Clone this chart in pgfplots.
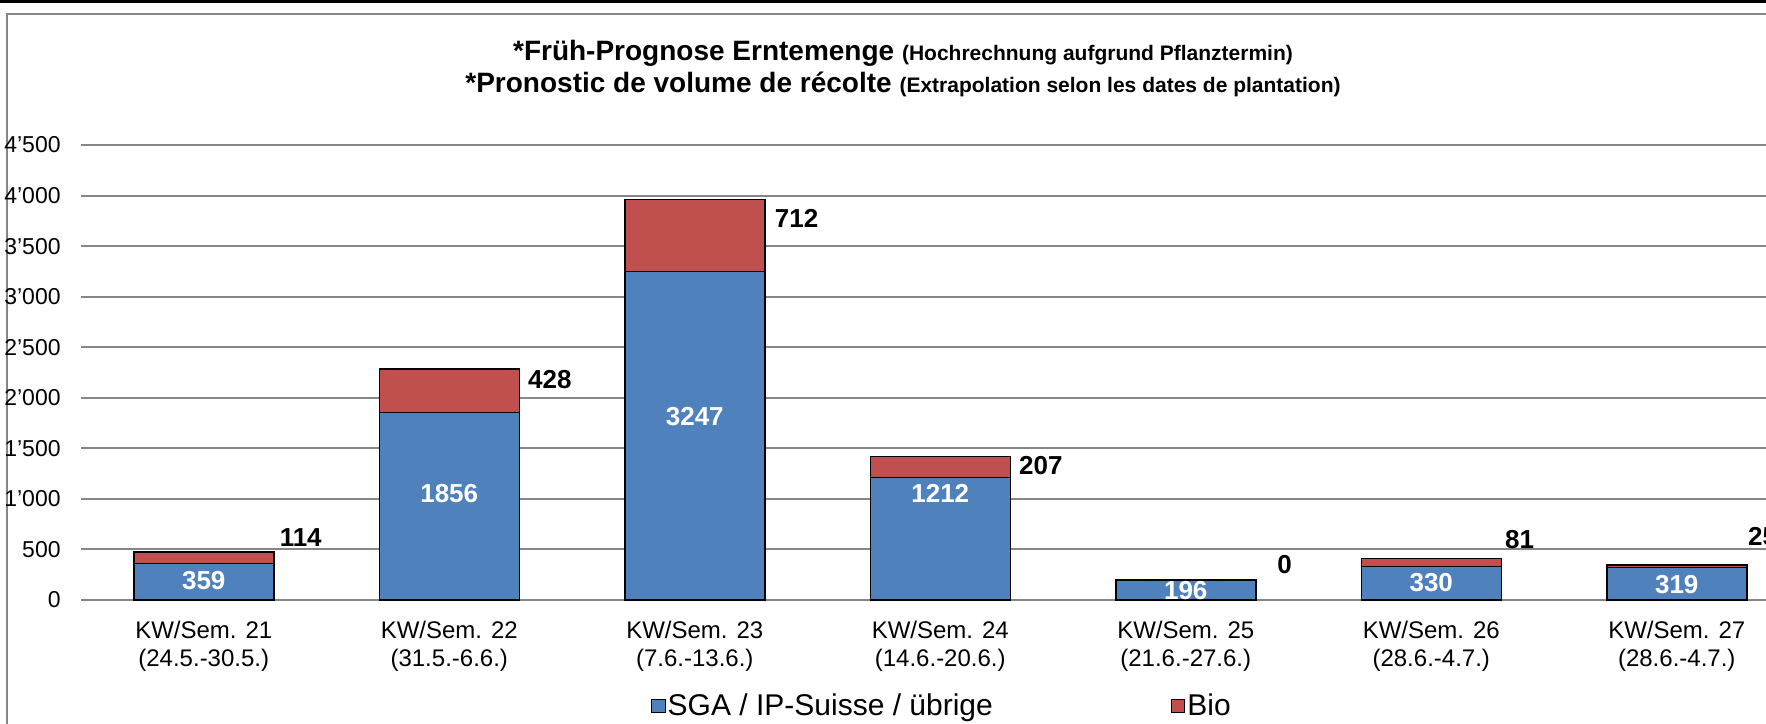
\documentclass[border=0pt]{standalone}
\usepackage{fontspec}
\setmainfont{Liberation Sans}
\usepackage{pgfplots}
\pgfplotsset{compat=1.18}
\definecolor{sgablue}{RGB}{79,129,189}
\definecolor{biored}{RGB}{192,80,77}
\definecolor{gridgray}{RGB}{134,134,134}
\begin{document}
\begin{tikzpicture}
\path[use as bounding box] (0pt,0pt) rectangle (883pt,361.5pt);
\fill[black] (0pt,359.75pt) rectangle (883pt,362pt);
\draw[gridgray, line width=1pt] (3.5pt,-1pt) -- (3.5pt,354.5pt) -- (884pt,354.5pt);
\node[anchor=base, inner sep=0pt] at (451.5pt,331pt) {\bfseries\fontsize{14}{16}\selectfont *Früh-Prognose Erntemenge {\fontsize{10.5}{12}\selectfont (Hochrechnung aufgrund Pflanztermin)}};
\node[anchor=base, inner sep=0pt] at (451.5pt,315pt) {\bfseries\fontsize{14}{16}\selectfont *Pronostic de volume de récolte {\fontsize{10.5}{12}\selectfont (Extrapolation selon les dates de plantation)}};
\begin{axis}[
  at={(40.5pt,61.5pt)}, anchor=south west, scale only axis,
  width=859.25pt, height=227.5pt,
  xmin=-0.5, xmax=6.5, ymin=0, ymax=4500,
  ybar stacked, bar width=70pt,
  axis x line*=bottom, axis y line*=left,
  axis line style={draw=none},
  major tick length=0pt,
  ytick={0,500,1000,1500,2000,2500,3000,3500,4000,4500},
  yticklabels={0,500,1’000,1’500,2’000,2’500,3’000,3’500,4’000,4’500},
  yticklabel style={anchor=east, inner sep=0pt, xshift=-10pt, font=\fontsize{11.5}{13}\selectfont},
  ymajorgrids, grid style={gridgray, line width=1pt},
  xtick={0,1,2,3,4,5,6},
  xticklabels={{KW/Sem. 21\\(24.5.-30.5.)},{KW/Sem. 22\\(31.5.-6.6.)},{KW/Sem. 23\\(7.6.-13.6.)},{KW/Sem. 24\\(14.6.-20.6.)},{KW/Sem. 25\\(21.6.-27.6.)},{KW/Sem. 26\\(28.6.-4.7.)},{KW/Sem. 27\\(28.6.-4.7.)}},
  xticklabel style={align=center, anchor=north, inner sep=0pt, yshift=-10.3pt, font=\fontsize{12}{14}\selectfont},
  legend columns=2,
  legend style={draw=none, fill=none, at={(0.501,-0.233)}, anchor=center, font=\fontsize{15}{17}\selectfont, nodes={inner sep=1pt}, /tikz/every even column/.append style={column sep=88pt}},
  legend image code/.code={\draw[#1, line width=0.5pt] (0pt,-3.4pt) rectangle (6.8pt,3.4pt);},
]
\addplot[fill=sgablue, draw=black, line width=0.75pt] coordinates {(0,359) (1,1856) (2,3247) (3,1212) (4,196) (5,330) (6,319)};
\addplot[fill=biored, draw=black, line width=0.75pt] coordinates {(0,114) (1,428) (2,712) (3,207) (4,0) (5,81) (6,25)};
\legend{SGA / IP-Suisse / übrige, Bio}
\end{axis}
\begin{axis}[
  at={(40.5pt,61.5pt)}, anchor=south west, scale only axis,
  width=859.25pt, height=227.5pt,
  xmin=-0.5, xmax=6.5, ymin=0, ymax=4500,
  hide axis, clip=false,
]
\addplot[draw=none, mark=none, nodes near coords, point meta=explicit symbolic,
  nodes near coords style={anchor=center, inner sep=0pt, text=white, font=\bfseries\fontsize{13}{15}\selectfont}]
  coordinates {(0,190)[359] (1,1057)[1856] (2,1814)[3247] (3,1054)[1212] (4,92)[196] (5,172)[330] (6,156)[319]};
\addplot[draw=none, mark=none, nodes near coords, point meta=explicit symbolic,
  nodes near coords style={anchor=center, inner sep=0pt, text=black, font=\bfseries\fontsize{13}{15}\selectfont}]
  coordinates {(0.395,614)[114] (1.41,2176)[428] (2.415,3776)[712] (3.41,1326)[207] (4.403,355)[0] (5.36,596)[81] (6.35,629)[25]};
\end{axis}
\end{tikzpicture}
\end{document}
